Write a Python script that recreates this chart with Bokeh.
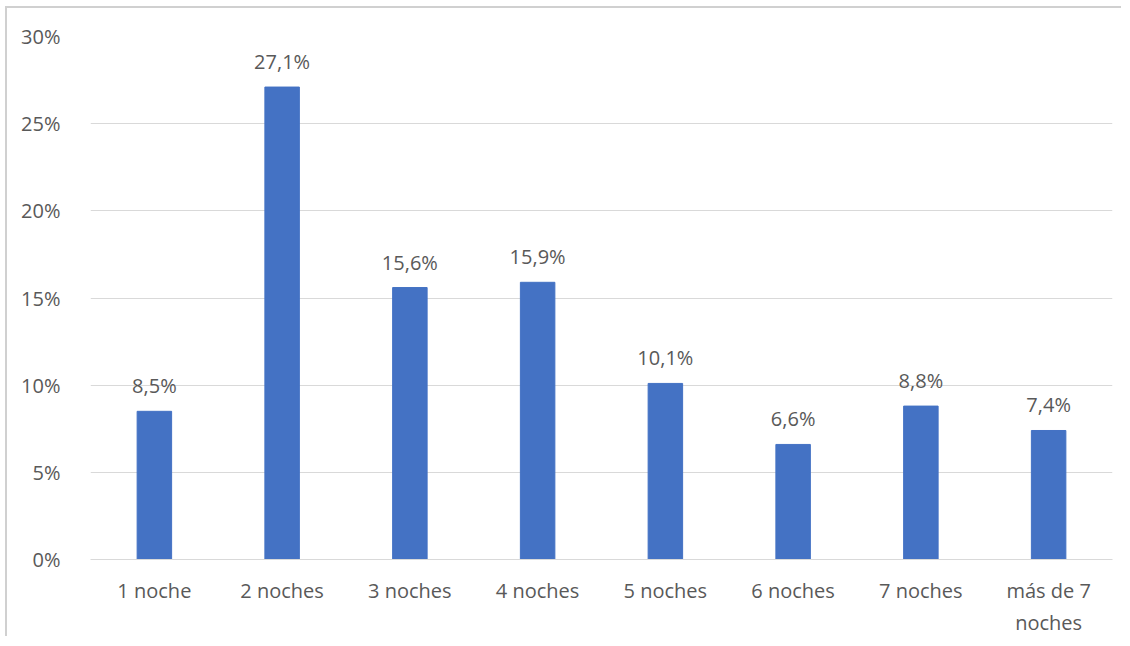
from bokeh.plotting import figure
from bokeh.models import ColumnDataSource, FixedTicker, CustomJSTickFormatter, LabelSet
from bokeh.core.properties import value
from bokeh.embed import file_html
from bokeh.resources import INLINE

categories = ["1 noche", "2 noches", "3 noches", "4 noches", "5 noches", "6 noches", "7 noches", "más de 7\nnoches"]
values = [8.5, 27.1, 15.6, 15.9, 10.1, 6.6, 8.8, 7.4]
labels = ["8,5%", "27,1%", "15,6%", "15,9%", "10,1%", "6,6%", "8,8%", "7,4%"]
y_ticks = [0, 5, 10, 15, 20, 25, 30]

FONT = "Open Sans"
TXT = "#595959"
FS = "20px"

src = ColumnDataSource(dict(cat=categories, val=values, lab=labels))

p = figure(x_range=categories, y_range=(0, 30), width=1116, height=630,
           output_backend="svg", toolbar_location=None,
           min_border_left=83, min_border_right=11, min_border_top=28, min_border_bottom=79)
p.outline_line_color = None
p.styles = {"border-left": "2px solid #d0d0d0", "border-top": "2px solid #d0d0d0",
            "margin-left": "5px", "margin-top": "6px"}

p.vbar(x="cat", top="val", width=0.27, source=src, color="#4472C4")

p.add_layout(LabelSet(x="cat", y="val", text="lab", source=src, text_align="center",
                      text_baseline="bottom", y_offset=12, text_font=value(FONT),
                      text_font_size=FS, text_color=TXT))

p.yaxis.ticker = FixedTicker(ticks=y_ticks)
p.yaxis.formatter = CustomJSTickFormatter(code="return tick + '%';")
p.yaxis.axis_line_color = None
p.yaxis.major_tick_line_color = None
p.yaxis.minor_tick_line_color = None
p.yaxis.major_label_standoff = 24
p.yaxis.major_label_text_font = FONT
p.yaxis.major_label_text_font_size = FS
p.yaxis.major_label_text_color = TXT

p.xaxis.axis_line_color = "#d9d9d9"
p.xaxis.major_tick_line_color = None
p.xaxis.minor_tick_line_color = None
p.xaxis.major_label_standoff = 11
p.xaxis.major_label_text_font = FONT
p.xaxis.major_label_text_font_size = FS
p.xaxis.major_label_text_color = TXT

p.xgrid.grid_line_color = None
p.ygrid.grid_line_color = "#d9d9d9"

open("out.html", "w").write(file_html(p, INLINE))
